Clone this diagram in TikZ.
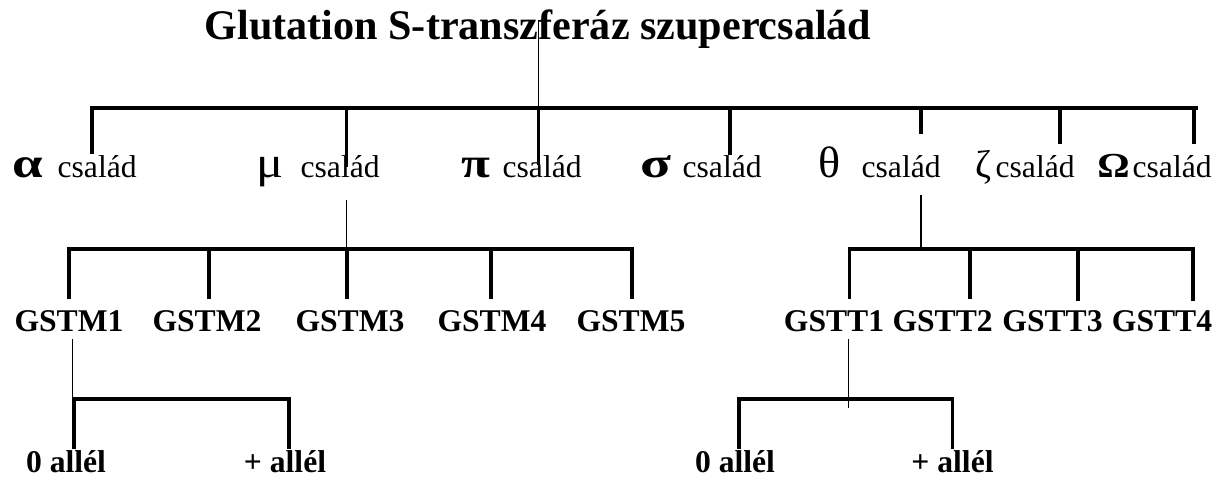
\documentclass[tikz,border=0pt]{standalone}
\usepackage{fontspec}
\setmainfont{Liberation Serif}
\usetikzlibrary{positioning}
\tikzset{
  % titolo dell'albero
  titolo/.style={font=\fontsize{24}{29}\selectfont\bfseries, inner sep=0pt, anchor=base},
  % lettere greche delle famiglie
  greco/.style={font=\fontsize{25}{30}\selectfont, inner sep=0pt, anchor=base west},
  grecob/.style={greco, font=\fontsize{24}{29}\selectfont\bfseries},
  grecop/.style={greco, font=\fontsize{22}{26}\selectfont},
  grecoo/.style={greco, font=\fontsize{20}{24}\selectfont\bfseries},
  % nome della famiglia
  fam/.style={font=\fontsize{18}{22}\selectfont, inner sep=0pt, anchor=base east},
  % geni e alleli
  gene/.style={font=\fontsize{18}{22}\selectfont\bfseries, inner sep=0pt, anchor=base},
  % rami dell'albero
  ramo/.style={line width=1.9pt, line cap=rect},
  stelo/.style={line width=0.75pt},
}
% lettera greca allargata
\newcommand{\largo}[2]{\scalebox{#1}[1]{#2}}

\begin{document}
\begin{tikzpicture}[x=0.02cm, y=-0.02cm]
  \useasboundingbox (0,0) rectangle (1223,480);

  \node[titolo] (titolo) at (538,39) {Glutation S-transzferáz szupercsalád};

  % famiglie
  \foreach \nome/\lett/\sc/\xg/\xc/\st in {alfa/α/1.3/12/137/grecob, mu/μ/1.15/256/380/greco,
      pi/π/1.25/461/582/grecob, sigma/σ/1.35/640/762/grecob, theta/θ/1.05/818/941/greco,
      zeta/ζ/1/975/1075/grecop, omega/Ω/1.15/1097/1212/grecoo} {
    \node[\st] (\nome) at (\xg,177) {\largo{\sc}{\lett}};
    \node[fam] (\nome-cs) at (\xc,177) {család};
  }

  % tronco principale
  \coordinate (radice) at (538.6,20);
  \coordinate (sx) at (92,108);
  \coordinate (dx) at (1196,108);
  \draw[stelo] (radice) -- (radice |- sx);
  \draw[ramo] (sx) -- (dx);
  \foreach \nome/\x/\y in {alfa/92/152, mu/346.5/165, pi/538.6/163, sigma/730/153,
      theta/921/132, zeta/1060/142, omega/1194/142} {
    \coordinate (\nome-p) at (\x,\y);
    \draw[ramo] (\nome-p |- sx) -- (\nome-p);
  }

  % geni della famiglia mu
  \coordinate (mu-s) at (346.5,200);
  \coordinate (m-sx) at (69,249);
  \coordinate (m-dx) at (632,249);
  \draw[stelo] (mu-s) -- (mu-s |- m-sx);
  \draw[ramo] (m-sx) -- (m-dx);
  \foreach \i/\x/\xt in {1/69/69, 2/209/207, 3/347/350, 4/491/492, 5/632/631} {
    \coordinate (gm\i-p) at (\x,297);
    \draw[ramo] (gm\i-p |- m-sx) -- (gm\i-p);
    \node[gene] (gstm\i) at (\xt,331) {GSTM\i};
  }

  % geni della famiglia theta
  \coordinate (theta-s) at (921,195);
  \coordinate (t-sx) at (849.5,249);
  \coordinate (t-dx) at (1193,249);
  \draw[stelo] (theta-s) -- (theta-s |- t-sx);
  \draw[ramo] (t-sx) -- (t-dx);
  \foreach \i/\x/\y/\xt in {1/849.5/297/834, 2/970/297/942.6, 3/1078/299/1052.5, 4/1193/299/1162} {
    \coordinate (gt\i-p) at (\x,\y);
    \draw[ramo] (gt\i-p |- t-sx) -- (gt\i-p);
    \node[gene] (gstt\i) at (\xt,331) {GSTT\i};
  }

  % alleli di GSTM1
  \coordinate (gm1-s) at (72.5,339);
  \coordinate (am-sx) at (74,399);
  \coordinate (am-dx) at (289,399);
  \draw[stelo] (gm1-s) -- (gm1-s |- am-sx);
  \draw[ramo] (am-sx) -- (am-dx);
  \draw[ramo] (am-sx) -- (74,447) coordinate (am0-p);
  \draw[ramo] (am-dx) -- (289,447) coordinate (am1-p);
  \node[gene] (m-nullo) at (66,472) {0 allél};
  \node[gene] (m-piu) at (285,472) {+ allél};

  % alleli di GSTT1
  \coordinate (gt1-s) at (848.7,339);
  \coordinate (at-sx) at (739,399);
  \coordinate (at-dx) at (952.5,399);
  \draw[stelo] (gt1-s) -- (848.7,408);
  \draw[ramo] (at-sx) -- (at-dx);
  \draw[ramo] (at-sx) -- (739,447) coordinate (at0-p);
  \draw[ramo] (at-dx) -- (952.5,447) coordinate (at1-p);
  \node[gene] (t-nullo) at (735,472) {0 allél};
  \node[gene] (t-piu) at (952.5,472) {+ allél};
\end{tikzpicture}
\end{document}
